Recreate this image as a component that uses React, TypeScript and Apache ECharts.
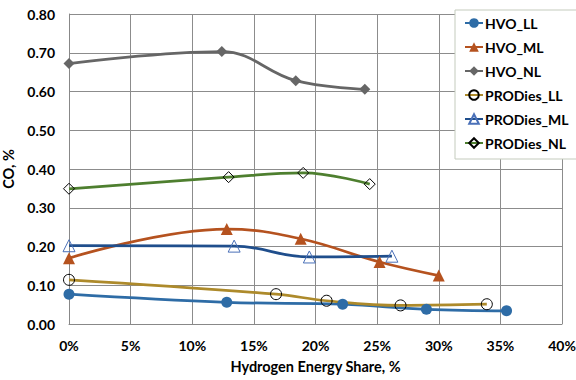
import React, { useEffect, useRef } from "react";
import * as echarts from "echarts";

// Hydrogen energy share (%) and CO (%) per fuel / load case
const hvoLLx = [0, 12.8, 22.2, 29.0, 35.5];
const hvoLLy = [0.077, 0.056, 0.051, 0.038, 0.034];

const hvoMLx = [0, 12.8, 18.8, 25.2, 30.0];
const hvoMLy = [0.17, 0.245, 0.22, 0.16, 0.125];

const hvoNLx = [0, 12.4, 18.4, 24.0];
const hvoNLy = [0.672, 0.703, 0.628, 0.606];

const prodLLx = [0, 16.8, 20.9, 26.9, 33.9];
const prodLLy = [0.114, 0.077, 0.06, 0.048, 0.051];

const prodMLx = [0, 13.4, 19.5, 26.2];
const prodMLy = [0.202, 0.201, 0.173, 0.175];

const prodNLx = [0, 12.95, 19.0, 24.4];
const prodNLy = [0.349, 0.379, 0.39, 0.361];

const xTicks = { min: 0, max: 40, interval: 5 };
const yTicks = { min: 0, max: 0.8, interval: 0.1 };

const FONT = "Lato, 'Noto Sans', sans-serif";

const pairs = (xs: number[], ys: number[]) => xs.map((x, i) => [x, ys[i]]);

export default function App() {
  const ref = useRef<HTMLDivElement>(null);

  useEffect(() => {
    if (!ref.current) return;
    const chart = echarts.init(ref.current, undefined, { renderer: "svg" });

    const filled = (
      name: string,
      xs: number[],
      ys: number[],
      color: string,
      symbol: string,
      size: number
    ) => ({
      name,
      type: "line",
      data: pairs(xs, ys),
      smooth: 0.4,
      symbol,
      symbolSize: size,
      lineStyle: { color, width: 2.75 },
      itemStyle: { color, borderWidth: 0 },
    });

    const hollow = (
      name: string,
      xs: number[],
      ys: number[],
      lineColor: string,
      markColor: string,
      symbol: string,
      size: number
    ) => ({
      name,
      type: "line",
      data: pairs(xs, ys),
      smooth: 0.4,
      symbol,
      symbolSize: size,
      lineStyle: { color: lineColor, width: 2.75 },
      itemStyle: { color: "rgba(255,255,255,0)", borderColor: markColor, borderWidth: 1 },
    });

    const label = { fontFamily: FONT, fontWeight: "bold", fontSize: 14, color: "#000" };
    const title = { fontFamily: FONT, fontWeight: "bold", fontSize: 14.5, color: "#000" };

    chart.setOption({
      animation: false,
      backgroundColor: "#ffffff",
      textStyle: { fontFamily: FONT },
      grid: {
        left: 69,
        top: 14,
        width: 493,
        height: 310,
        containLabel: false,
        outerBoundsMode: "none",
      },
      legend: {
        orient: "vertical",
        left: 455,
        top: 10,
        padding: [6, 13, 9, 9],
        itemGap: 10,
        itemWidth: 18,
        itemHeight: 12,
        backgroundColor: "#ffffff",
        borderColor: "#c4cbbd",
        borderWidth: 1,
        borderRadius: 0,
        textStyle: { ...label, padding: [0, 0, 0, -3] },
        data: ["HVO_LL", "HVO_ML", "HVO_NL", "PRODies_LL", "PRODies_ML", "PRODies_NL"],
      },
      xAxis: {
        type: "value",
        ...xTicks,
        name: "Hydrogen Energy Share, %",
        nameLocation: "middle",
        nameGap: 35,
        nameTextStyle: title,
        axisLine: { show: true, lineStyle: { color: "#888", width: 1 } },
        axisTick: { show: false },
        axisLabel: { ...label, formatter: (v: number) => `${v}%`, margin: 14 },
        splitLine: { show: true, lineStyle: { color: "#8c8c8c", width: 1 } },
      },
      yAxis: {
        type: "value",
        ...yTicks,
        name: "CO, %",
        nameLocation: "middle",
        nameGap: 41,
        nameRotate: 90,
        nameTextStyle: title,
        axisLine: { show: true, lineStyle: { color: "#888", width: 1 } },
        axisTick: { show: false },
        axisLabel: { ...label, formatter: (v: number) => v.toFixed(2), margin: 14 },
        splitLine: { show: true, lineStyle: { color: "#8c8c8c", width: 1 } },
      },
      series: [
        filled("HVO_LL", hvoLLx, hvoLLy, "#2e6ca6", "circle", 11),
        filled("HVO_ML", hvoMLx, hvoMLy, "#b5521f", "triangle", 12),
        filled("HVO_NL", hvoNLx, hvoNLy, "#666666", "diamond", 11),
        hollow("PRODies_LL", prodLLx, prodLLy, "#ad8a2b", "#000000", "circle", 11),
        hollow("PRODies_ML", prodMLx, prodMLy, "#1f4e8c", "#4a70b8", "triangle", 12),
        hollow("PRODies_NL", prodNLx, prodNLy, "#4e7f2f", "#000000", "diamond", 11),
      ],
    });

    return () => chart.dispose();
  }, []);

  return <div ref={ref} style={{ width: 576, height: 380, position: "absolute", left: 0, top: 0 }} />;
}
